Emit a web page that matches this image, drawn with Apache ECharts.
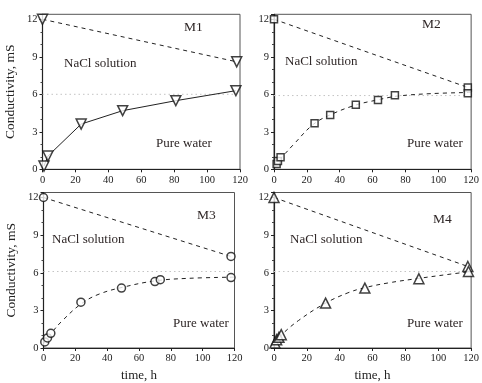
<!DOCTYPE html>
<html>
<head>
<meta charset="utf-8">
<script src="https://cdn.jsdelivr.net/npm/echarts@6/dist/echarts.min.js"></script>
<style>
  html, body { margin: 0; padding: 0; background: #fff; }
  #chart { width: 482px; height: 383px; }
</style>
</head>
<body>
<div id="chart"></div>
<script>
// time in hours, conductivity in mS
// M1
const m1NaclT = [0, 118];
const m1NaclC = [12.0, 8.6];
const m1WaterT = [0.9, 3.3, 23.5, 48.7, 81, 117.5];
const m1WaterC = [0.26, 1.06, 3.62, 4.69, 5.49, 6.29];
// M2
const m2NaclT = [0, 118];
const m2NaclC = [12.0, 6.55];
const m2WaterT = [1.6, 2.4, 4, 24.7, 34.2, 49.8, 63.3, 73.6, 118];
const m2WaterC = [0.43, 0.67, 0.96, 3.68, 4.35, 5.17, 5.55, 5.92, 6.08];
const m2FitT = [0, 5, 12, 24, 35, 50, 63, 75, 95, 120];
const m2FitC = [0.3, 1.0, 2.0, 3.6, 4.4, 5.15, 5.55, 5.85, 6.05, 6.15];
// M3
const m3NaclT = [0, 117.8];
const m3NaclC = [12.0, 7.3];
const m3WaterT = [0.8, 2.5, 4.6, 23.5, 49, 70, 73.4, 117.8];
const m3WaterC = [0.48, 0.8, 1.17, 3.65, 4.78, 5.3, 5.45, 5.62];
const m3FitT = [0, 5, 12, 24, 35, 50, 70, 90, 120];
const m3FitC = [0.35, 1.2, 2.2, 3.55, 4.3, 4.85, 5.35, 5.55, 5.65];
// M4
const m4NaclT = [0, 118];
const m4NaclC = [12.0, 6.5];
const m4WaterT = [0.6, 1.6, 3, 4.4, 31.4, 55.3, 88.2, 118.4];
const m4WaterC = [0.4, 0.66, 0.85, 1.06, 3.58, 4.78, 5.52, 6.1];
const m4FitT = [0, 5, 15, 31, 45, 55, 70, 88, 105, 120];
const m4FitC = [0.35, 1.1, 2.2, 3.55, 4.4, 4.8, 5.2, 5.55, 5.85, 6.1];
// grey dotted reference level
const refT = [0, 117];
const refC = [6.0, 5.9, 6.1, 6.1];

const panelNames = ['M1', 'M2', 'M3', 'M4'];

const zip = (xs, ys) => xs.map((x, i) => [x, ys[i]]);
const FONT = '"Liberation Serif", "DejaVu Serif", serif';

const grids = [
  { left: 42.5, top: 14.3, width: 197.5, height: 155 },
  { left: 274, top: 14.3, width: 201, height: 155 },
  { left: 43.5, top: 192.5, width: 191, height: 155.5 },
  { left: 274, top: 192.5, width: 201, height: 155.5 }
].map(g => Object.assign(g, { show: true, borderColor: '#555', borderWidth: 1 }));

const xAxes = grids.map((g, i) => ({
  type: 'value', gridIndex: i, min: 0, max: 120, interval: 20,
  name: i >= 2 ? 'time, h' : '',
  nameLocation: 'middle', nameGap: 21,
  nameTextStyle: { fontFamily: FONT, fontSize: 13, color: '#222' },
  axisLine: { lineStyle: { color: '#222', width: 1 } },
  axisTick: { length: 3, lineStyle: { color: '#222' } },
  axisLabel: { fontFamily: FONT, fontSize: 10.5, color: '#222', margin: 5 },
  splitLine: { show: false }
}));

const yAxes = grids.map((g, i) => ({
  type: 'value', gridIndex: i, min: 0, max: 12.4, interval: 3,
  name: i % 2 === 0 ? 'Conductivity, mS' : '',
  nameLocation: 'middle', nameGap: 25,
  nameTextStyle: { fontFamily: FONT, fontSize: 13.5, color: '#222' },
  axisLine: { lineStyle: { color: '#222', width: 1.2 } },
  axisTick: { length: 3, lineStyle: { color: '#222' } },
  minorTick: { show: true, splitNumber: 3, length: 2, lineStyle: { color: '#444' } },
  axisLabel: {
    fontFamily: FONT, fontSize: 10.5, color: '#222', margin: 5,
    formatter: v => (v % 3 === 0 ? String(v) : '')
  },
  splitLine: { show: false }
}));

const markers = [
  { symbol: 'triangle', symbolRotate: 180, symbolSize: 10 },
  { symbol: 'rect', symbolRotate: 0, symbolSize: 7 },
  { symbol: 'circle', symbolRotate: 0, symbolSize: 8 },
  { symbol: 'triangle', symbolRotate: 0, symbolSize: 10 }
];
const hollow = { color: '#fff', borderColor: '#111', borderWidth: 1.5 };

const nacl = [zip(m1NaclT, m1NaclC), zip(m2NaclT, m2NaclC), zip(m3NaclT, m3NaclC), zip(m4NaclT, m4NaclC)];
const water = [zip(m1WaterT, m1WaterC), zip(m2WaterT, m2WaterC), zip(m3WaterT, m3WaterC), zip(m4WaterT, m4WaterC)];
const fits = [null, zip(m2FitT, m2FitC), zip(m3FitT, m3FitC), zip(m4FitT, m4FitC)];

const series = [];
for (let i = 0; i < 4; i++) {
  const mk = markers[i];
  // reference level
  series.push({
    type: 'line', xAxisIndex: i, yAxisIndex: i, silent: true, z: 1,
    data: refT.map(t => [t, refC[i]]), symbol: 'none',
    lineStyle: { color: '#c4c4c4', width: 1, type: [1.5, 3] }
  });
  // NaCl solution side
  series.push({
    type: 'line', xAxisIndex: i, yAxisIndex: i, z: 2,
    data: nacl[i], symbol: 'none',
    lineStyle: { color: '#222', width: 1, type: [4, 4] }
  });
  series.push({
    type: 'scatter', xAxisIndex: i, yAxisIndex: i, z: 5,
    data: nacl[i], symbol: mk.symbol, symbolRotate: mk.symbolRotate,
    symbolSize: mk.symbolSize, itemStyle: hollow
  });
  // pure water side
  if (i === 0) {
    series.push({
      type: 'line', xAxisIndex: i, yAxisIndex: i, z: 2,
      data: water[i], symbol: 'none',
      lineStyle: { color: '#222', width: 1 }
    });
  } else {
    series.push({
      type: 'line', xAxisIndex: i, yAxisIndex: i, z: 2, smooth: 0.4,
      data: fits[i], symbol: 'none',
      lineStyle: { color: '#222', width: 1, type: [4, 4] }
    });
  }
  series.push({
    type: 'scatter', xAxisIndex: i, yAxisIndex: i, z: 5,
    data: water[i], symbol: mk.symbol, symbolRotate: mk.symbolRotate,
    symbolSize: mk.symbolSize, itemStyle: hollow
  });
}

// annotation text: [name, NaCl label, Pure water label] centres
const txt = (x, y, s, size) => ({
  type: 'text', left: x, top: y,
  style: { text: s, fontFamily: FONT, fontSize: size, fill: '#2e2626', align: 'center', verticalAlign: 'middle' },
  bounding: 'raw', z: 10
});
const labelPos = [
  [[194, 28], [101, 65], [185, 145]],
  [[432, 25], [322, 63], [436, 145]],
  [[207, 216], [89, 241], [202, 325]],
  [[443, 220], [327, 241], [436, 325]]
];
const graphics = [];
labelPos.forEach((p, i) => {
  graphics.push(txt(p[0][0] - 10, p[0][1] - 8, panelNames[i], 13.5));
  graphics.push(txt(p[1][0] - 37, p[1][1] - 8, 'NaCl solution', 13));
  graphics.push(txt(p[2][0] - 29, p[2][1] - 8, 'Pure water', 13));
});

const chart = echarts.init(document.getElementById('chart'), null, { renderer: 'canvas' });
chart.setOption({
  animation: false,
  backgroundColor: '#fff',
  grid: grids,
  xAxis: xAxes,
  yAxis: yAxes,
  series: series,
  graphic: graphics
});
</script>
</body>
</html>
